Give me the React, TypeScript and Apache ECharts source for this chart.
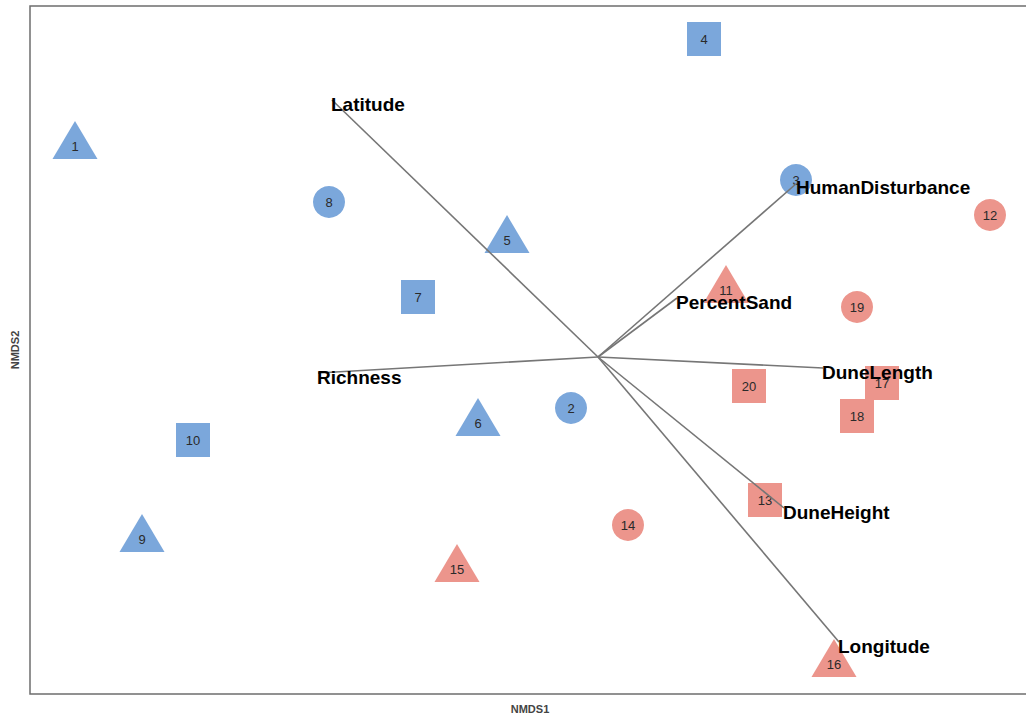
import React, { useEffect, useRef } from "react";
import * as echarts from "echarts";

// Site scores on the first two NMDS axes
const siteIds = ["1", "2", "3", "4", "5", "6", "7", "8", "9", "10", "11", "12", "13", "14", "15", "16", "17", "18", "19", "20"];
const nmds1 = [-0.91, 0.082, 0.532, 0.348, -0.046, -0.104, -0.224, -0.402, -0.776, -0.674, 0.392, 0.92, 0.47, 0.196, -0.146, 0.608, 0.704, 0.654, 0.654, 0.438];
const nmds2 = [0.396, -0.128, 0.328, 0.61, 0.208, -0.158, 0.094, 0.284, -0.39, -0.192, 0.108, 0.258, -0.312, -0.362, -0.45, -0.64, -0.078, -0.144, 0.074, -0.084];
const siteGroup = ["A", "A", "A", "A", "A", "A", "A", "A", "A", "A", "B", "B", "B", "B", "B", "B", "B", "B", "B", "B"];
const siteShape = ["triangle", "circle", "circle", "rect", "triangle", "triangle", "rect", "circle", "triangle", "rect", "triangle", "circle", "rect", "circle", "triangle", "triangle", "rect", "rect", "circle", "rect"];

// Fitted environmental vectors
const envVars = ["Latitude", "HumanDisturbance", "PercentSand", "Richness", "DuneLength", "DuneHeight", "Longitude"];
const envEnd1 = [-0.396, 0.534, 0.294, -0.424, 0.586, 0.508, 0.618];
const envEnd2 = [0.488, 0.322, 0.092, -0.058, -0.048, -0.328, -0.596];
const envOrigin = [0.136, -0.026];

const groupColor: Record<string, string> = { A: "#7ba7db", B: "#ec958c" };
const FONT = "'Liberation Sans', Arial, sans-serif";

export default function App() {
  const ref = useRef<HTMLDivElement>(null);

  useEffect(() => {
    if (!ref.current) return;
    const chart = echarts.init(ref.current, undefined, { renderer: "svg" });

    const siteData = siteIds.map((id, i) => {
      const shape = siteShape[i];
      const isTri = shape === "triangle";
      const size = isTri ? [45, 38] : shape === "rect" ? 34 : 32;
      return {
        value: [nmds1[i], nmds2[i]],
        name: id,
        symbol: shape,
        symbolSize: size,
        symbolOffset: isTri ? [0, -6] : [0, 0],
        itemStyle: { color: groupColor[siteGroup[i]], opacity: 1 },
        label: { offset: isTri ? [0, 6] : [0, 0] },
      };
    });

    const vectorData = envVars.map((name, i) => [envOrigin[0], envOrigin[1], envEnd1[i], envEnd2[i], name]);

    chart.setOption({
      animation: false,
      grid: {
        left: 30,
        top: 6,
        right: -4,
        bottom: 21,
        show: true,
        borderColor: "#6e6e6e",
        borderWidth: 1.5,
        containLabel: false,
        outerBoundsMode: "none",
      },
      xAxis: {
        type: "value",
        min: -1,
        max: 1,
        name: "NMDS1",
        nameLocation: "middle",
        nameGap: 9,
        nameTextStyle: { fontSize: 11, fontWeight: "bold", color: "#444", fontFamily: FONT },
        axisLine: { show: false },
        axisTick: { show: false },
        axisLabel: { show: false },
        splitLine: { show: false },
      },
      yAxis: {
        type: "value",
        min: -0.7,
        max: 0.676,
        name: "NMDS2",
        nameLocation: "middle",
        nameRotate: 90,
        nameGap: 10,
        nameTextStyle: { fontSize: 11, fontWeight: "bold", color: "#444", fontFamily: FONT },
        axisLine: { show: false },
        axisTick: { show: false },
        axisLabel: { show: false },
        splitLine: { show: false },
      },
      series: [
        {
          type: "scatter",
          data: siteData,
          z: 2,
          label: {
            show: true,
            position: "inside",
            formatter: (p: any) => p.name,
            fontSize: 13,
            color: "#2a2a2a",
            fontFamily: FONT,
          },
          emphasis: { disabled: true },
        },
        {
          type: "custom",
          z: 3,
          data: vectorData,
          encode: { x: [0, 2], y: [1, 3] },
          renderItem: (params: any, api: any) => {
            const p0 = api.coord([api.value(0), api.value(1)]);
            const p1 = api.coord([api.value(2), api.value(3)]);
            const name = envVars[params.dataIndex];
            return {
              type: "group",
              children: [
                {
                  type: "line",
                  shape: { x1: p0[0], y1: p0[1], x2: p1[0], y2: p1[1] },
                  style: { stroke: "#767676", lineWidth: 1.6 },
                },
                {
                  type: "text",
                  z2: 10,
                  style: {
                    text: name,
                    x: p1[0] - 1,
                    y: p1[1] + 4,
                    align: "left",
                    verticalAlign: "middle",
                    fontSize: 19,
                    fontWeight: "bold",
                    fontFamily: FONT,
                    fill: "#000",
                  },
                },
              ],
            };
          },
        },
      ],
    });

    return () => chart.dispose();
  }, []);

  return <div ref={ref} style={{ position: "fixed", left: 0, top: 0, width: 1026, height: 715, background: "#fff" }} />;
}
